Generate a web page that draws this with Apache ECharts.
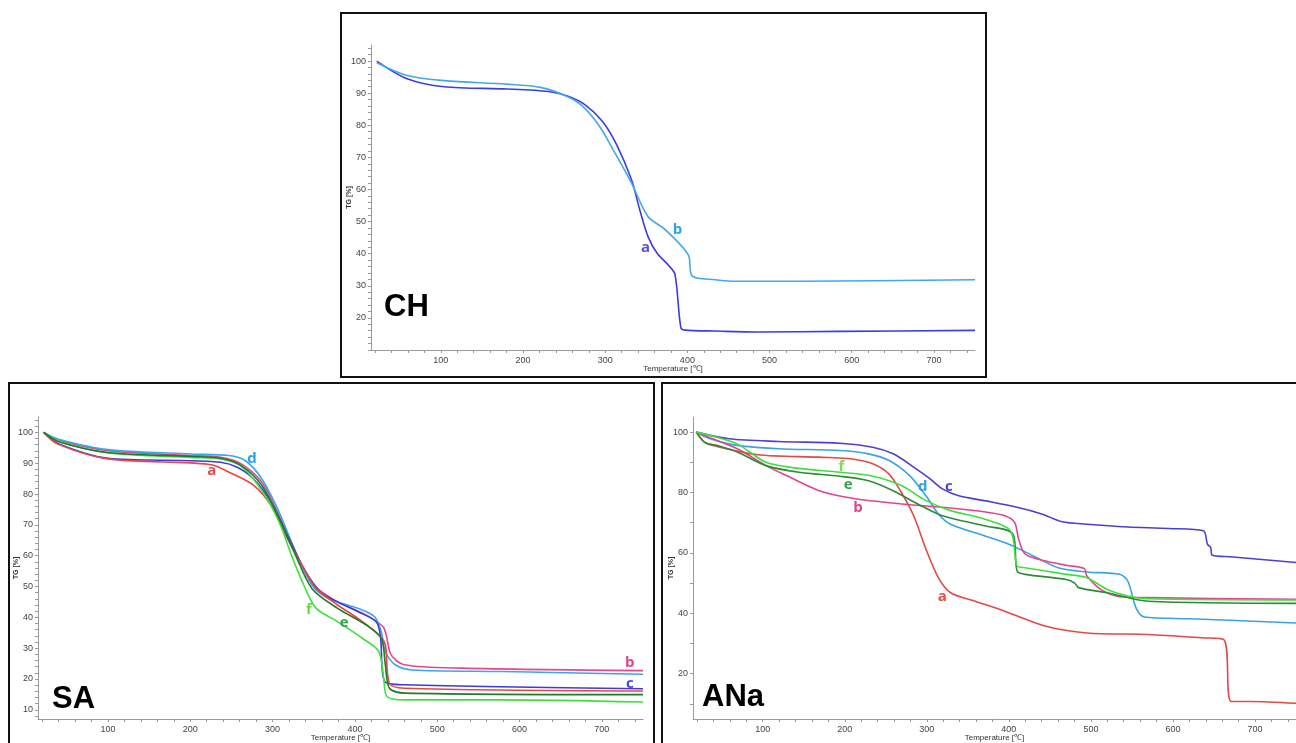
<!DOCTYPE html>
<html>
<head>
<meta charset="utf-8">
<title>TG curves</title>
<script src="https://cdn.jsdelivr.net/npm/echarts@6/dist/echarts.min.js"></script>
<style>
  html, body { margin: 0; padding: 0; background: #fff; }
  #chart { width: 1296px; height: 743px; }
</style>
</head>
<body>
<div id="chart"></div>
<script>
// ---- CH ----
const chA_T = [22, 58, 104, 180, 231, 254, 276, 297, 314, 332, 342, 352, 363, 378, 385, 392, 397, 434, 484, 586, 750]
const chA_TG = [100, 94.6, 92, 91.3, 90.5, 89.1, 86.3, 81.1, 73.9, 63, 53.7, 45.4, 40.2, 36.1, 33.5, 17, 16.2, 15.9, 15.6, 15.8, 16.1]
const chB_T = [22, 58, 104, 180, 221, 251, 271, 292, 312, 332, 352, 373, 401, 406, 434, 459, 535, 750]
const chB_TG = [99.5, 95.6, 93.9, 92.8, 91.8, 89.3, 86.3, 80.1, 71.3, 62, 51.6, 47.5, 39.7, 33, 31.9, 31.4, 31.4, 31.9]

// ---- SA ----
const saA_T = [22, 39, 100, 201, 227, 247, 277, 298, 318, 338, 353, 379, 404, 429, 437, 442, 460, 750]
const saA_TG = [100, 96.2, 91.4, 90.1, 89.4, 87.1, 82.8, 76.3, 65.5, 55.8, 49.3, 44, 39.6, 34.3, 31, 18.6, 17, 16.1]
const saB_T = [22, 40, 100, 201, 237, 262, 287, 308, 328, 348, 379, 414, 434, 438, 444, 460, 530, 750]
const saB_TG = [100, 97.5, 94.1, 92.5, 91.9, 89.8, 83.8, 73, 61.2, 51, 45, 40.7, 37, 34.3, 27.8, 24.6, 23.5, 22.7]
const saC_T = [22, 39, 100, 201, 237, 257, 277, 298, 318, 338, 358, 379, 404, 426, 431, 436, 460, 750]
const saC_TG = [100, 96.4, 91.6, 90.8, 90.3, 88.7, 84.9, 77.4, 66.6, 55.8, 48.3, 45, 41.8, 38.5, 34, 19.2, 18.1, 16.8]
const saD_T = [22, 40, 100, 201, 247, 267, 287, 308, 328, 348, 368, 404, 424, 432, 437, 449, 470, 581, 750]
const saD_TG = [100, 97.8, 94.4, 93, 92.5, 90.8, 84.9, 74.1, 61.2, 50.4, 46.1, 42.9, 40.2, 35.3, 28.9, 24.6, 22.9, 22.4, 21.5]
const saE_T = [22, 40, 100, 201, 237, 262, 287, 308, 328, 348, 379, 414, 432, 437, 442, 460, 750]
const saE_TG = [100, 97, 93.5, 92.2, 91.6, 89.2, 82.8, 72, 60.1, 49.3, 42.9, 37.5, 33.2, 24.6, 17, 15.4, 14.9]
const saF_T = [22, 40, 100, 201, 237, 262, 287, 308, 323, 338, 353, 379, 409, 429, 435, 439, 460, 581, 750]
const saF_TG = [100, 97.2, 93.3, 91.9, 91.4, 89, 81.1, 70.9, 60.1, 50.4, 42.9, 38.6, 33.2, 28.9, 20.2, 14.3, 13.2, 13.2, 12.5]

// ---- ANa ----
const naA_T = [19, 29, 39, 94, 169, 209, 234, 254, 269, 284, 299, 314, 329, 359, 395, 445, 495, 570, 635, 662, 671, 695, 750]
const naA_TG = [100, 96.7, 95.6, 92.5, 91.7, 91.1, 89.5, 86.1, 80, 72.3, 61.2, 51.8, 46.8, 44, 40.7, 35.7, 33.5, 33, 31.9, 31.3, 10.8, 10.8, 10.2]
const naB_T = [19, 34, 69, 104, 129, 169, 209, 269, 319, 370, 395, 407, 412, 420, 445, 470, 492, 495, 512, 535, 570, 750]
const naB_TG = [100, 98.3, 94.5, 88.9, 85.6, 80.6, 78.1, 76.2, 75.1, 73.6, 72.3, 70.1, 64.5, 59.6, 57.3, 55.9, 54.8, 52.4, 47.9, 45.5, 45.2, 44.6]
const naC_T = [19, 59, 119, 194, 234, 259, 284, 304, 319, 339, 370, 410, 440, 465, 495, 545, 595, 637, 642, 646, 648, 670, 750]
const naC_TG = [100, 97.8, 96.9, 96.3, 95, 92.8, 88.4, 84.5, 81.2, 78.9, 77.3, 75.1, 72.9, 70.3, 69.5, 68.6, 68.1, 67.3, 62.9, 61.8, 59.2, 58.7, 56.8]
const naD_T = [19, 34, 69, 119, 194, 229, 254, 279, 299, 314, 329, 370, 400, 430, 460, 495, 535, 545, 555, 565, 620, 750]
const naD_TG = [100, 98, 95.6, 94.5, 93.9, 92.8, 90.6, 85.6, 78.9, 72.9, 69.5, 65.7, 62.9, 59, 55.1, 53.7, 52.9, 50.7, 41.8, 38.8, 38.2, 36.8]
const naE_T = [19, 29, 44, 69, 104, 144, 194, 229, 259, 289, 319, 370, 405, 410, 420, 470, 480, 485, 520, 570, 750]
const naE_TG = [100, 96.7, 95.6, 93.4, 88.9, 86.7, 85.4, 83.9, 80.6, 76.2, 72.3, 69, 66.2, 54, 52.9, 51.2, 50.1, 48.5, 46.8, 44, 43.3]
const naF_T = [19, 44, 69, 104, 144, 194, 234, 269, 299, 329, 370, 402, 410, 420, 470, 495, 520, 545, 570, 750]
const naF_TG = [100, 98.3, 96.1, 90, 88, 86.7, 85.4, 82.3, 77.3, 74, 71.2, 67.3, 55.7, 55.1, 52.9, 51.8, 47.9, 45.7, 44.8, 44.4]

// tick labels
const xLabels = [100, 200, 300, 400, 500, 600, 700]
const chYLabels = [20, 30, 40, 50, 60, 70, 80, 90, 100]
const saYLabels = [10, 20, 30, 40, 50, 60, 70, 80, 90, 100]
const naYLabels = [20, 40, 60, 80, 100]

function zip(t, v) {
  return t.map((x, i) => [x, v[i]])
}
function steps(from, to, step) {
  const out = []
  for (let v = from; v <= to; v += step) out.push(v)
  return out
}

const labelFont = { fontFamily: 'Liberation Sans', fontSize: 9, color: '#444' }

function xAxisFor(grid) {
  return {
    type: 'value', gridIndex: grid, min: 15, max: 750,
    name: 'Temperature [\u2103]', nameLocation: 'middle', nameGap: 15, nameMoveOverlap: false,
    nameTextStyle: { fontFamily: 'Liberation Sans', fontSize: 8, color: '#333' },
    axisLine: { lineStyle: { color: '#999', width: 1 } },
    axisTick: { show: true, length: 3, customValues: steps(20, 740, 20), lineStyle: { color: '#999' } },
    axisLabel: Object.assign({ customValues: xLabels, margin: 6 }, labelFont),
    splitLine: { show: false }
  }
}
function yAxisFor(grid, min, labels, tickStep) {
  return {
    type: 'value', gridIndex: grid, min: min, max: 105,
    name: 'TG [%]', nameLocation: 'middle', nameGap: 18, nameRotate: 90, nameMoveOverlap: false,
    nameTextStyle: { fontFamily: 'Liberation Sans', fontSize: 7, fontWeight: 'bold', color: '#333' },
    axisLine: { show: true, lineStyle: { color: '#999', width: 1 } },
    axisTick: { show: true, length: 3, customValues: steps(Math.ceil(min / tickStep) * tickStep, 104, tickStep), lineStyle: { color: '#999' } },
    axisLabel: Object.assign({ customValues: labels, margin: 5 }, labelFont),
    splitLine: { show: false }
  }
}

function curve(name, grid, t, v, color, tag, tagColor) {
  return {
    name: name, type: 'line', xAxisIndex: grid, yAxisIndex: grid,
    data: zip(t, v), showSymbol: false, smooth: 0.3,
    lineStyle: { color: color, width: 1.6 }, itemStyle: { color: color },
    markPoint: tag ? {
      symbol: 'circle', symbolSize: 1, itemStyle: { color: 'rgba(0,0,0,0)' },
      label: { show: true, position: 'inside', fontFamily: 'Open Sans', fontWeight: 'bold', fontSize: 15, color: tagColor },
      data: [{ coord: tag, value: name }]
    } : undefined
  }
}

const chart = echarts.init(document.getElementById('chart'))
chart.setOption({
  animation: false,
  backgroundColor: '#fff',
  grid: [
    { left: 371, top: 45, width: 604, height: 305 },
    { left: 38, top: 417, width: 605, height: 303 },
    { left: 693, top: 417, width: 603, height: 303 }
  ],
  xAxis: [xAxisFor(0), xAxisFor(1), xAxisFor(2)],
  yAxis: [
    yAxisFor(0, 10, chYLabels, 2),
    yAxisFor(1, 7, saYLabels, 2),
    yAxisFor(2, 5, naYLabels, 10)
  ],
  series: [
    curve('a', 0, chA_T, chA_TG, '#3c3ce6', [349, 42], '#5a55d2'),
    curve('b', 0, chB_T, chB_TG, '#42a8ee', [388, 47.5], '#2ea6e6'),

    curve('b', 1, saB_T, saB_TG, '#e9468e', [734, 25.4], '#e3458a'),
    curve('d', 1, saD_T, saD_TG, '#3aa6f0', [275, 91.4], '#2aa2ea'),
    curve('c', 1, saC_T, saC_TG, '#3a3ae0', [734, 18.6], '#4a45d8'),
    curve('a', 1, saA_T, saA_TG, '#ec4444', [226, 87.6], '#ea4a4a'),
    curve('f', 1, saF_T, saF_TG, '#3fe03f', [344, 42.6], '#66dd44'),
    curve('e', 1, saE_T, saE_TG, '#1f7a2c', [387, 38.4], '#2fa24a'),

    curve('c', 2, naC_T, naC_TG, '#4a40d4', [327, 81.9], '#4a45d8'),
    curve('d', 2, naD_T, naD_TG, '#3aa2e4', [295, 81.9], '#2aa2ea'),
    curve('b', 2, naB_T, naB_TG, '#e4448e', [216, 75], '#e3458a'),
    curve('a', 2, naA_T, naA_TG, '#e44848', [319, 45.6], '#ea4a4a'),
    curve('e', 2, naE_T, naE_TG, '#2e8a3a', [204, 82.6], '#2fa24a'),
    curve('f', 2, naF_T, naF_TG, '#3ee03e', [196, 88.5], '#77dd55')
  ],
  graphic: [
    { type: 'rect', shape: { x: 341, y: 13, width: 645, height: 364 }, style: { fill: null, stroke: '#111', lineWidth: 2 } },
    { type: 'rect', shape: { x: 9, y: 383, width: 645, height: 380 }, style: { fill: null, stroke: '#111', lineWidth: 2 } },
    { type: 'rect', shape: { x: 662, y: 383, width: 660, height: 380 }, style: { fill: null, stroke: '#111', lineWidth: 2 } },
    { type: 'text', left: 384, top: 292, style: { text: 'CH', fontFamily: 'Liberation Sans', fontWeight: 'bold', fontSize: 31, fill: '#000' } },
    { type: 'text', left: 52, top: 684, style: { text: 'SA', fontFamily: 'Liberation Sans', fontWeight: 'bold', fontSize: 31, fill: '#000' } },
    { type: 'text', left: 702, top: 682, style: { text: 'ANa', fontFamily: 'Liberation Sans', fontWeight: 'bold', fontSize: 31, fill: '#000' } }
  ]
})
</script>
</body>
</html>
